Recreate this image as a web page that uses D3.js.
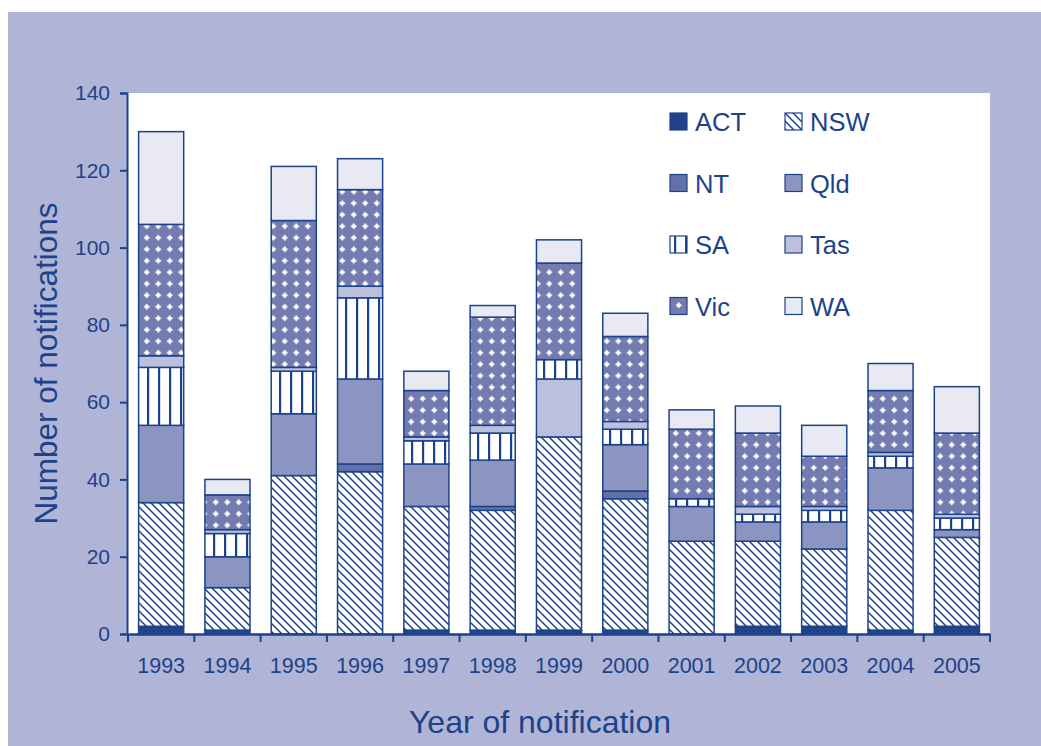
<!DOCTYPE html>
<html>
<head>
<meta charset="utf-8">
<script src="https://cdn.jsdelivr.net/npm/d3@7"></script>
<style>
  body { margin: 0; background: #fff; }
  text { font-family: Arial, "Liberation Sans", sans-serif; }
</style>
</head>
<body>
<script>
// notifications by state and year
var years = ["1993","1994","1995","1996","1997","1998","1999","2000","2001","2002","2003","2004","2005"];
var states = ["ACT","NSW","NT","Qld","SA","Tas","Vic","WA"];
var ACT = [2,1,0,0,1,1,1,1,0,2,2,1,2];
var NSW = [32,11,41,42,32,31,50,34,24,22,20,31,23];
var NT  = [0,0,0,2,0,1,0,2,0,0,0,0,0];
var Qld = [20,8,16,22,11,12,0,12,9,5,7,11,2];
var SA  = [15,6,11,21,6,7,5,4,2,2,3,3,3];
var Tas = [3,1,1,3,1,2,15,2,0,2,1,1,1];
var Vic = [34,9,38,25,12,28,25,22,18,19,13,16,21];
var WA  = [24,4,14,8,5,3,6,6,5,7,8,7,12];
var yTicks = [0,20,40,60,80,100,120,140];
// in the original, the 1999 bar has Tas stacked below SA
var orderOverride = {"1999": ["ACT","NSW","NT","Qld","Tas","SA","Vic","WA"]};

var series = {ACT:ACT, NSW:NSW, NT:NT, Qld:Qld, SA:SA, Tas:Tas, Vic:Vic, WA:WA};
var rows = years.map(function(y, i) {
  var r = {year: y};
  states.forEach(function(s) { r[s] = series[s][i]; });
  return r;
});

var W = 1041, H = 746;
var navy = "#1c438a";
var mLeft = 128, mRight = 990, mTop = 93, mBottom = 634;

var svg = d3.select("body").append("svg")
  .attr("width", W).attr("height", H);

// patterns
var defs = svg.append("defs");
var pNsw = defs.append("pattern").attr("id","p-nsw")
  .attr("patternUnits","userSpaceOnUse").attr("width",8).attr("height",8);
pNsw.append("rect").attr("width",8).attr("height",8).attr("fill","#fff");
pNsw.append("path").attr("d","M-2,-2L10,10M-2,6L2,10M6,-2L10,2")
  .attr("stroke",navy).attr("stroke-width",1.5);

var pSa = defs.append("pattern").attr("id","p-sa")
  .attr("patternUnits","userSpaceOnUse").attr("width",11).attr("height",11)
  .attr("x", 4);
pSa.append("rect").attr("width",11).attr("height",11).attr("fill","#fff");
pSa.append("rect").attr("width",2.2).attr("height",11).attr("fill",navy);

var pVic = defs.append("pattern").attr("id","p-vic")
  .attr("patternUnits","userSpaceOnUse").attr("width",11.5).attr("height",11.5)
  .attr("x", 3).attr("y", 2);
pVic.append("rect").attr("width",11.5).attr("height",11.5).attr("fill","#737bb1");
pVic.append("path")
  .attr("d","M5.75,2.4L7.1,4.4L9.1,5.75L7.1,7.1L5.75,9.1L4.4,7.1L2.4,5.75L4.4,4.4Z")
  .attr("fill","#fff");

var fills = {
  ACT: "#22428b",
  NSW: "url(#p-nsw)",
  NT: "#6470a9",
  Qld: "#8c95c1",
  SA: "url(#p-sa)",
  Tas: "#bcc0dd",
  Vic: "url(#p-vic)",
  WA: "#e8e9f3"
};

// background panel
svg.append("rect").attr("x",8).attr("y",12).attr("width",W-8).attr("height",H-12)
  .attr("fill","#b0b4d6");
svg.append("rect").attr("x",mLeft).attr("y",mTop).attr("width",mRight-mLeft).attr("height",mBottom-mTop)
  .attr("fill","#fff");

var x = d3.scaleBand().domain(years).range([mLeft, mRight])
  .paddingInner(0.32).paddingOuter(0.16);
var y = d3.scaleLinear().domain([0,140]).range([mBottom, mTop]);

// stack each year with its own key order
var segments = [];
rows.forEach(function(r) {
  var keys = orderOverride[r.year] || states;
  d3.stack().keys(keys)([r]).forEach(function(s) {
    var v = s[0];
    if (v[1] - v[0] > 0) segments.push({key: s.key, year: r.year, y0: v[0], y1: v[1]});
  });
});

svg.append("g").selectAll("rect")
  .data(segments)
  .enter().append("rect")
  .attr("x", function(d) { return x(d.year); })
  .attr("width", x.bandwidth())
  .attr("y", function(d) { return y(d.y1); })
  .attr("height", function(d) { return y(d.y0) - y(d.y1); })
  .attr("fill", function(d) { return fills[d.key]; })
  .attr("stroke", navy)
  .attr("stroke-width", 1.5);

// y axis
var yAxis = svg.append("g").attr("transform","translate(" + (mLeft - 1) + ",0)")
  .call(d3.axisLeft(y).tickValues(yTicks).tickSize(7).tickPadding(10));
yAxis.select(".domain").attr("stroke",navy).attr("stroke-width",2);
yAxis.selectAll(".tick line").attr("stroke",navy).attr("stroke-width",2);
yAxis.selectAll(".tick text").attr("fill",navy).style("font-size","21px")
  .style("font-family","Arial, 'Liberation Sans', sans-serif");

// x axis
var xAxis = svg.append("g").attr("transform","translate(0," + mBottom + ")")
  .call(d3.axisBottom(x).tickSize(0).tickPadding(24));
xAxis.select(".domain").attr("stroke",navy).attr("stroke-width",2.5);
xAxis.selectAll(".tick text").attr("fill",navy).style("font-size","21.5px")
  .style("font-family","Arial, 'Liberation Sans', sans-serif");
var step = x.step();
var bounds = years.map(function(d) { return x(d) - (step - x.bandwidth()) / 2; });
bounds.push(mRight);
xAxis.selectAll("line.sep").data(bounds).enter().append("line")
  .attr("class","sep")
  .attr("x1", function(d) { return d; }).attr("x2", function(d) { return d; })
  .attr("y1", 0).attr("y2", 8)
  .attr("stroke", navy).attr("stroke-width", 2);

// axis titles
svg.append("text")
  .attr("x", 540).attr("y", 733)
  .attr("text-anchor","middle").attr("fill",navy)
  .style("font-size","32px")
  .text("Year of notification");
svg.append("text")
  .attr("transform","translate(57," + ((mTop + mBottom) / 2) + ") rotate(-90)")
  .attr("text-anchor","middle").attr("fill",navy)
  .style("font-size","31.5px")
  .text("Number of notifications");

// legend
var legend = svg.append("g").selectAll("g")
  .data(states).enter().append("g")
  .attr("transform", function(d, i) {
    return "translate(" + (670 + (i % 2) * 115) + "," + (113 + Math.floor(i / 2) * 61.5) + ")";
  });
legend.append("rect")
  .attr("width",17).attr("height",17)
  .attr("fill", function(d) { return fills[d]; })
  .attr("stroke", navy).attr("stroke-width",1.2);
legend.append("text")
  .attr("x", 25).attr("y", 18)
  .attr("fill", navy)
  .style("font-size","25.5px")
  .text(function(d) { return d; });
</script>
</body>
</html>
